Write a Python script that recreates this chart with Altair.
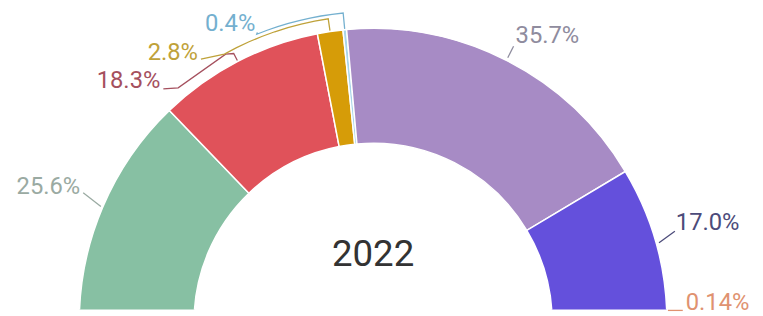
import math
import altair as alt
import pandas as pd

# ---- data ----
values = [25.6, 18.3, 2.8, 0.4, 35.7, 17.0, 0.14]
labels = ["25.6%", "18.3%", "2.8%", "0.4%", "35.7%", "17.0%", "0.14%"]
slice_colors = ["#87c0a3", "#e0525a", "#d69c08", "#a9d5e8", "#a78bc5", "#6450dc", "#ef8a5e"]
label_colors = ["#9aaaa2", "#a5505e", "#bfa23a", "#74b0cf", "#8f8c9e", "#4c4b7a", "#e09270"]
center_title = "2022"

# ---- layout (page pixels) ----
OFF = 8
CX, CY = 377, 324
R_OUT, R_IN = 297, 181
W, H = 755, 303
total = sum(values)


def ang(frac):
    return -math.pi / 2 + frac * math.pi


def pol(a, r):
    return (CX + r * math.sin(a), CY - r * math.cos(a))


mids = []
cum = 0.0
for v in values:
    mids.append(ang((cum + v / 2) / total))
    cum += v


def arc_pts(a0, a1, r, n=8):
    return [pol(a0 + (a1 - a0) * k / n, r) for k in range(n + 1)]


# label text positions and alignments
label_pos = [
    (81, 187, "right"),
    (162, 80, "right"),
    (200, 52, "right"),
    (258, 23, "right"),
    (521, 35, "left"),
    (683, 224, "left"),
    (693, 305, "left"),
]

paths = [
    [pol(mids[0], R_OUT + 2), (84, 193)],
    [pol(mids[1], R_OUT + 1), pol(mids[1], 306), (228, 53), (180, 87), (165, 88)],
    [pol(mids[2], R_OUT + 1)] + arc_pts(mids[2], math.radians(-29), 310) + [(203, 58)],
    [pol(mids[3], R_OUT + 1)] + arc_pts(mids[3], math.radians(-22), 314) + [(260, 31)],
    [pol(mids[4], R_OUT + 3), pol(mids[4], 313)],
    [pol(mids[5], R_OUT + 3), (682, 232)],
    [(675, 312), (690, 312)],
]

slices = pd.DataFrame({
    "idx": list(range(len(values))),
    "value": values,
    "color": slice_colors,
})

lines_rows = []
for i, p in enumerate(paths):
    for j, (x, y) in enumerate(p):
        lines_rows.append({"lab": labels[i], "seq": j, "x": x - OFF, "y": y - OFF,
                           "color": label_colors[i]})
lines = pd.DataFrame(lines_rows)

texts = pd.DataFrame({
    "label": labels,
    "x": [p[0] - OFF for p in label_pos],
    "y": [p[1] - OFF for p in label_pos],
    "align": [p[2] for p in label_pos],
    "color": label_colors,
})

arc = alt.Chart(slices).mark_arc(
    innerRadius=R_IN, outerRadius=R_OUT, stroke="white", strokeWidth=1.5, clip=True
).encode(
    theta=alt.Theta("value:Q", stack=True,
                    scale=alt.Scale(domain=[0, total], range=[-math.pi / 2, math.pi / 2])),
    order=alt.Order("idx:Q"),
    color=alt.Color("color:N", scale=None),
    x=alt.value(CX - OFF),
    y=alt.value(CY - OFF),
)

leader = alt.Chart(lines).mark_line(strokeWidth=1.3).encode(
    x=alt.X("x:Q", scale=None),
    y=alt.Y("y:Q", scale=None),
    detail="lab:N",
    order="seq:Q",
    color=alt.Color("color:N", scale=None),
)

txt_right = alt.Chart(texts).transform_filter(alt.datum.align == "right").mark_text(
    align="right", baseline="middle", font="Roboto", fontSize=24
).encode(
    x=alt.X("x:Q", scale=None),
    y=alt.Y("y:Q", scale=None),
    text="label:N",
    color=alt.Color("color:N", scale=None),
)

txt_left = alt.Chart(texts).transform_filter(alt.datum.align == "left").mark_text(
    align="left", baseline="middle", font="Roboto", fontSize=24
).encode(
    x=alt.X("x:Q", scale=None),
    y=alt.Y("y:Q", scale=None),
    text="label:N",
    color=alt.Color("color:N", scale=None),
)

title = alt.Chart(pd.DataFrame({"t": [center_title]})).mark_text(
    align="center", baseline="middle", font="Roboto", fontSize=37, color="#333333"
).encode(
    x=alt.value(377 - OFF),
    y=alt.value(256 - OFF),
    text="t:N",
)

chart = alt.layer(arc, leader, txt_right, txt_left, title).properties(
    width=W, height=H, autosize="none",
    padding={"left": 0, "top": 0, "right": 0, "bottom": 5},
).configure_view(stroke=None)

chart.save("out.html", embed_options={"renderer": "svg", "actions": False})
